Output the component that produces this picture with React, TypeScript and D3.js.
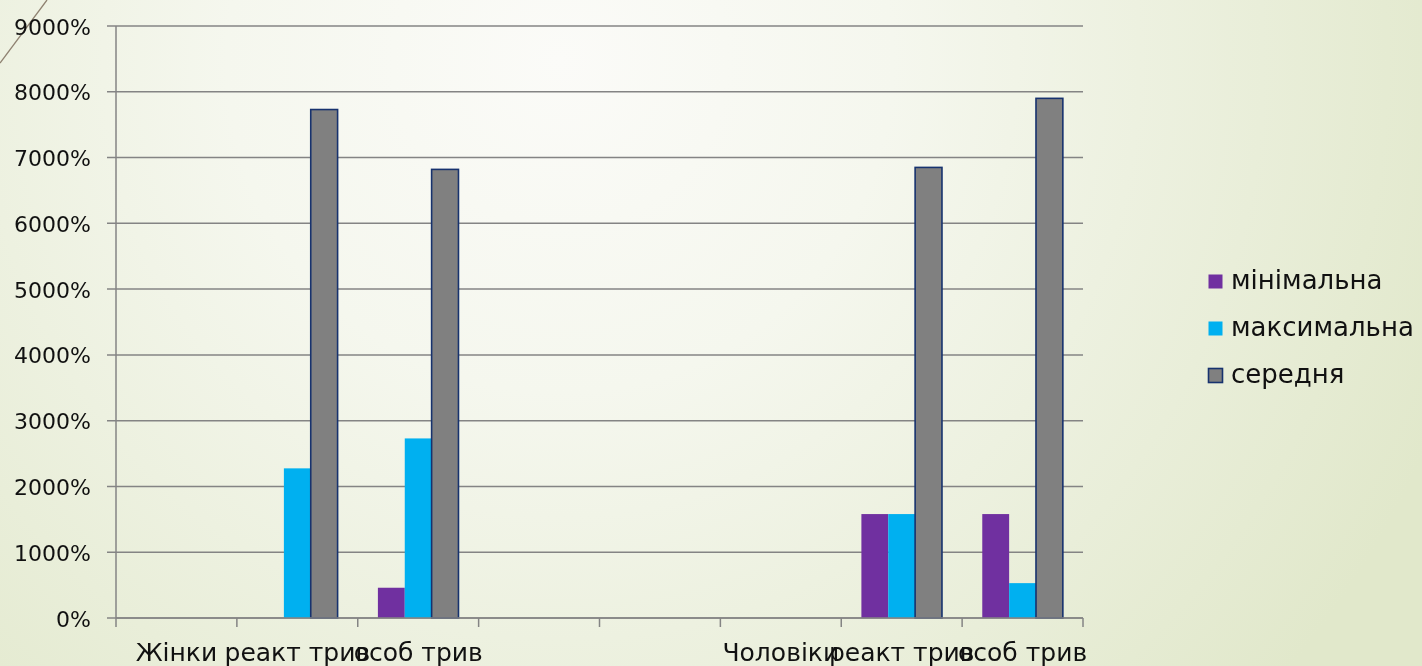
import React from "react";
import * as d3 from "d3";

const categories = ["Жінки", "реакт трив", "особ трив", "", "", "Чоловіки", "реакт трив", "особ трив"];
const seriesNames = ["мінімальна", "максимальна", "середня"];
const minimal = [0, 0, 460, 0, 0, 0, 1580, 1580];
const maximal = [0, 2275, 2730, 0, 0, 0, 1580, 530];
const average = [0, 7730, 6820, 0, 0, 0, 6850, 7900];
const yTicks = [0, 1000, 2000, 3000, 4000, 5000, 6000, 7000, 8000, 9000];

const seriesValues = [minimal, maximal, average];
const colors = ["#7030A0", "#00B0F0", "#808080"];
const strokes = ["none", "none", "#17326e"];

const W = 1422;
const H = 666;
const left = 116;
const right = 1083;
const top = 26;
const bottom = 618;
const FONT = "'DejaVu Sans', sans-serif";

export default function App() {
  const x = d3
    .scaleBand<number>()
    .domain(categories.map((_, i) => i))
    .range([left, right])
    .paddingInner(0)
    .paddingOuter(0);
  const xs = d3
    .scaleBand<number>()
    .domain(seriesNames.map((_, i) => i))
    .range([0, x.bandwidth()])
    .paddingInner(0)
    .paddingOuter(0.75);
  const y = d3.scaleLinear().domain([0, 9000]).range([bottom, top]);

  const boundaries = categories.map((_, i) => x(i) as number).concat([right]);

  return (
    <svg
      width={W}
      height={H}
      style={{ position: "fixed", left: 0, top: 0, display: "block" }}
    >
      <defs>
        <radialGradient id="bg" gradientUnits="userSpaceOnUse" cx={560} cy={60} r={950}>
          <stop offset="0" stopColor="#fbfbf8" />
          <stop offset="0.35" stopColor="#f5f7ee" />
          <stop offset="1" stopColor="#e1e8cb" />
        </radialGradient>
      </defs>
      <rect x={0} y={0} width={W} height={H} fill="url(#bg)" />
      <line x1={0} y1={63} x2={47} y2={0} stroke="#8f8271" strokeWidth={1.3} />

      {/* gridlines and y ticks */}
      {yTicks.map((t) => (
        <g key={t}>
          <line x1={107} x2={right} y1={y(t)} y2={y(t)} stroke="#848484" strokeWidth={1.5} />
          <text
            x={91}
            y={y(t) + 8.5}
            textAnchor="end"
            fontFamily={FONT}
            fontSize={22}
            fill="#111"
          >
            {`${t}%`}
          </text>
        </g>
      ))}

      {/* bars */}
      {seriesValues.map((vals, s) =>
        vals.map((v, i) =>
          v > 0 ? (
            <rect
              key={`${s}-${i}`}
              x={(x(i) as number) + (xs(s) as number)}
              y={y(v)}
              width={xs.bandwidth()}
              height={y(0) - y(v)}
              fill={colors[s]}
              stroke={strokes[s]}
              strokeWidth={1.6}
            />
          ) : null
        )
      )}

      {/* axes */}
      <line x1={left} x2={left} y1={top} y2={bottom} stroke="#848484" strokeWidth={1.5} />
      <line x1={left} x2={right} y1={bottom} y2={bottom} stroke="#848484" strokeWidth={1.5} />
      {boundaries.map((b, i) => (
        <line key={i} x1={b} x2={b} y1={bottom} y2={627} stroke="#848484" strokeWidth={1.5} />
      ))}

      {/* x labels */}
      {categories.map((c, i) => (
        <text
          key={i}
          x={(x(i) as number) + x.bandwidth() / 2}
          y={661}
          textAnchor="middle"
          fontFamily={FONT}
          fontSize={25}
          fill="#111"
        >
          {c}
        </text>
      ))}

      {/* legend */}
      {seriesNames.map((n, s) => (
        <g key={n}>
          <rect
            x={1208.5}
            y={274.5 + s * 47}
            width={14}
            height={14}
            fill={colors[s]}
            stroke={s === 2 ? "#17326e" : "none"}
            strokeWidth={1.6}
          />
          <text x={1231} y={289 + s * 47} fontFamily={FONT} fontSize={26} fill="#111">
            {n}
          </text>
        </g>
      ))}
    </svg>
  );
}
